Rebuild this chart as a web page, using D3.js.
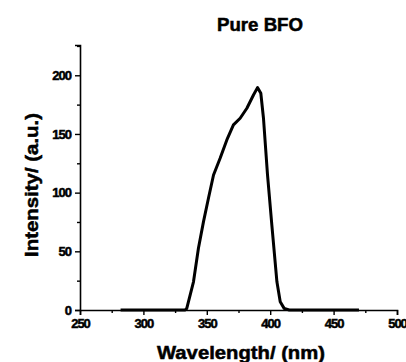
<!DOCTYPE html>
<html>
<head>
<meta charset="utf-8">
<script src="https://cdn.jsdelivr.net/npm/d3@7"></script>
<style>
  html, body { margin: 0; padding: 0; background: #fff; }
  svg text { font-family: "Liberation Sans", Arial, sans-serif; font-weight: bold; fill: #000; stroke: #000; stroke-width: 0.5px; }
</style>
</head>
<body>
<svg id="chart" width="406" height="362"></svg>
<script>
// Photoluminescence spectrum of pure BFO
const wavelength = [282, 300, 320, 333, 334.2, 339.5, 343.4, 347.4, 351.3, 355.3, 360.5, 365.8, 371,   376.3, 381.6, 386.8, 390,   392.6, 394.7, 397.9, 401.3, 405.3, 407.9, 411, 415, 440, 470];
const intensity  = [0,   0,   0,   0,   1.4,   24,    52.6,  75.3,  95.2,  115,   129.3, 144.9, 157.7, 163.4, 171.9, 183.2, 189.5, 184.7, 163.4, 115,   72.4,  24,    7,     1.4, 0,   0,   0];

const xTicks = [250, 300, 350, 400, 450, 500];
const yTicks = [0, 50, 100, 150, 200];
const titleText = "Pure BFO";
const xLabel = "Wavelength/ (nm)";
const yLabel = "Intensity/ (a.u.)";

const svg = d3.select("#chart");
const plotLeft = 80, plotRight = 397, plotTop = 45, plotBottom = 310;

const x = d3.scaleLinear().domain([250, 500]).range([plotLeft, plotRight]);
const y = d3.scaleLinear().domain([0, 225.8]).range([plotBottom, plotTop]);

// axes: major ticks with labels, minor ticks in between
const xMinor = d3.range(275, 500, 50);
const yMinor = d3.range(25, 226, 50);

const xAxis = svg.append("g").attr("transform", `translate(0,${plotBottom})`);
xAxis.call(d3.axisBottom(x).tickValues(xTicks).tickSize(5).tickPadding(4).tickFormat(d3.format("d")));
xAxis.append("g").call(d3.axisBottom(x).tickValues(xMinor).tickSize(3).tickFormat(""))
  .select(".domain").remove();

const yAxis = svg.append("g").attr("transform", `translate(${plotLeft},0)`);
yAxis.call(d3.axisLeft(y).tickValues(yTicks).tickSize(5).tickPadding(4).tickFormat(d3.format("d")));
yAxis.append("g").call(d3.axisLeft(y).tickValues(yMinor).tickSize(3).tickFormat(""))
  .select(".domain").remove();

svg.selectAll(".domain").attr("stroke", "#000").attr("stroke-width", 1.6);
svg.selectAll(".tick line").attr("stroke", "#000").attr("stroke-width", 1.4);
svg.selectAll(".tick text").style("font-size", "13px").style("letter-spacing", "-1px");

// the spectrum
const line = d3.line().x((d, i) => x(wavelength[i])).y(d => y(d));
svg.append("path")
  .datum(intensity)
  .attr("d", line)
  .attr("fill", "none")
  .attr("stroke", "#000")
  .attr("stroke-width", 3)
  .attr("stroke-linejoin", "round");

// titles
svg.append("text")
  .attr("x", 260).attr("y", 31)
  .attr("text-anchor", "middle")
  .attr("textLength", 86).attr("lengthAdjust", "spacingAndGlyphs")
  .style("font-size", "18px")
  .text(titleText);

svg.append("text")
  .attr("x", 241).attr("y", 359)
  .attr("text-anchor", "middle")
  .attr("textLength", 168).attr("lengthAdjust", "spacingAndGlyphs")
  .style("font-size", "18px")
  .text(xLabel);

svg.append("text")
  .attr("transform", "translate(38,185) rotate(-90)")
  .attr("text-anchor", "middle")
  .attr("textLength", 144).attr("lengthAdjust", "spacingAndGlyphs")
  .style("font-size", "18px")
  .text(yLabel);
</script>
</body>
</html>
